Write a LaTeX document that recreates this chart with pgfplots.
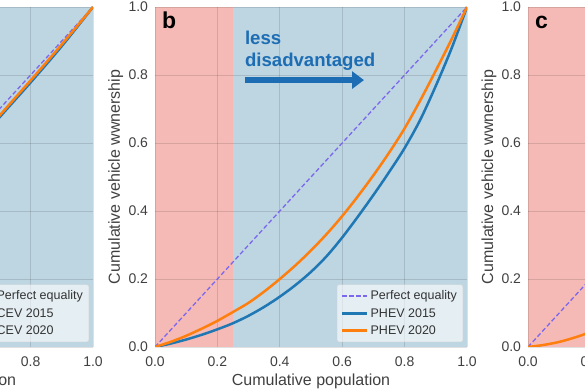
\documentclass[border=0pt]{standalone}
\usepackage{fontspec}
\setmainfont{Liberation Sans}
\usepackage{pgfplots}
\pgfplotsset{compat=1.18}
\usetikzlibrary{arrows.meta}
\definecolor{bgblue}{HTML}{BED5E2}
\definecolor{bgred}{HTML}{F5BAB6}
\definecolor{c15}{HTML}{1F77B4}
\definecolor{c20}{HTML}{FF7F0E}
\definecolor{eq}{HTML}{7B68EE}
\definecolor{ann}{HTML}{1C6DB3}
\pgfplotsset{
 lorenz/.style={
  width=312pt, height=340pt, scale only axis, anchor=south west,
  xmin=0,xmax=1,ymin=0,ymax=1,
  axis line style={draw=none},
  tick style={draw=none},
  xtick={0,0.2,0.4,0.6,0.8,1}, ytick={0,0.2,0.4,0.6,0.8,1},
  grid=major,
  major grid style={black, opacity=0.12, line width=0.8pt},
  ticklabel style={font=\fontsize{14}{16}\selectfont, text=black!75},
  /pgf/number format/.cd, fixed, fixed zerofill, precision=1, assume math mode=true, /pgfplots/.cd,
  xticklabel style={yshift=-6pt},
  yticklabel style={xshift=-3.5pt},
  xlabel={Cumulative population}, ylabel={Cumulative vehicle wwnership},
  label style={font=\fontsize{16}{19}\selectfont, text=black!75},
  xlabel style={at={(axis description cs:0.5,-0.1147)}, anchor=base},
  ylabel style={at={(axis description cs:-0.1122,0.5)}, anchor=base},
  legend style={at={(1,0)}, anchor=south east, xshift=-4pt, yshift=5pt,
    fill=white, fill opacity=0.6, text opacity=1, draw=white!85!black,
    rounded corners=2pt, font=\fontsize{12.5}{15}\selectfont, text=black!80,
    row sep=3pt, inner ysep=4pt, inner xsep=4pt},
  legend cell align=left,
  legend image code/.code={\draw[#1] (0pt,0pt) -- (25pt,0pt);},
 },
 eqline/.style={eq, line width=1.3pt, dash pattern=on 4.5pt off 2.5pt},
 l15/.style={c15, line width=2.5pt, smooth},
 l20/.style={c20, line width=2.5pt, smooth},
}
\begin{document}
\begin{tikzpicture}
\useasboundingbox (0,0) rectangle (585pt,390pt);
\clip (0,0) rectangle (585pt,390pt);
% panel a
\begin{axis}[lorenz, at={(-219pt,43pt)}, axis background/.style={fill=bgblue}]
\addplot[eqline] coordinates {(0,0) (1,1)};
\addplot[l15] coordinates {(0,0) (0.1,0.08) (0.2,0.17) (0.3,0.265) (0.4,0.36) (0.5,0.462) (0.6,0.567) (0.7,0.675) (0.8,0.778) (0.9,0.885) (1,1)};
\addplot[l20] coordinates {(0,0) (0.1,0.085) (0.2,0.176) (0.3,0.27) (0.4,0.366) (0.5,0.468) (0.6,0.572) (0.7,0.68) (0.8,0.784) (0.9,0.89) (1,1)};
\legend{Perfect equality, CEV 2015, CEV 2020}
\end{axis}
% panel b
\begin{axis}[lorenz, at={(155pt,43pt)},
  axis background/.style={fill=bgblue, path picture={\fill[bgred] (path picture bounding box.south west) rectangle ([xshift=78pt]path picture bounding box.north west);}}]
\addplot[eqline] coordinates {(0,0) (1,1)};
\addplot[l15] coordinates {(0,0) (0.05,0.01) (0.1,0.022) (0.15,0.036) (0.2,0.052) (0.25,0.07) (0.3,0.092) (0.35,0.118) (0.4,0.148) (0.45,0.182) (0.5,0.221) (0.55,0.267) (0.6,0.322) (0.65,0.383) (0.7,0.447) (0.75,0.514) (0.8,0.585) (0.85,0.668) (0.9,0.768) (0.95,0.877) (1,1)};
\addplot[l20] coordinates {(0,0) (0.05,0.015) (0.1,0.033) (0.15,0.054) (0.2,0.077) (0.25,0.103) (0.3,0.13) (0.35,0.163) (0.4,0.2) (0.45,0.24) (0.5,0.284) (0.55,0.332) (0.6,0.385) (0.65,0.443) (0.7,0.505) (0.75,0.571) (0.8,0.643) (0.85,0.725) (0.9,0.813) (0.95,0.904) (1,1)};
\legend{Perfect equality, PHEV 2015, PHEV 2020}
\node[anchor=base west, inner sep=0, font=\bfseries\fontsize{23}{26}\selectfont] at (axis cs:0.022,0.938) {b};
\node[anchor=base west, inner sep=0, text=ann, font=\bfseries\fontsize{18.6}{21}\selectfont] at (axis cs:0.288,0.890) {less};
\node[anchor=base west, inner sep=0, text=ann, font=\bfseries\fontsize{18.6}{21}\selectfont] at (axis cs:0.288,0.826) {disadvantaged};
\draw[ann, line width=6pt, -{Triangle[length=12pt, width=17pt]}] (axis cs:0.288,0.785) -- (axis cs:0.670,0.785);
\end{axis}
% panel c
\begin{axis}[lorenz, at={(528pt,43pt)}, axis background/.style={fill=bgred}]
\addplot[eqline] coordinates {(0,0) (1,1)};
\addplot[l20] coordinates {(0,0) (0.05,0.006) (0.1,0.015) (0.15,0.028) (0.2,0.044) (0.3,0.08) (0.4,0.13) (0.5,0.19) (0.6,0.27) (0.7,0.37) (0.8,0.5) (0.9,0.7) (1,1)};
\node[anchor=base west, inner sep=0, font=\bfseries\fontsize{23}{26}\selectfont] at (axis cs:0.022,0.938) {c};
\end{axis}
\end{tikzpicture}
\end{document}
